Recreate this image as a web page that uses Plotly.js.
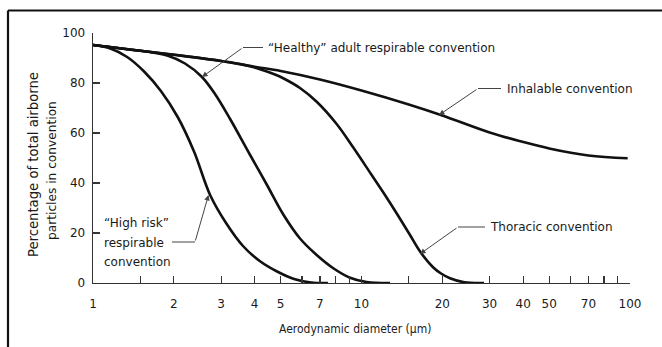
<!DOCTYPE html>
<html>
<head>
<meta charset="utf-8">
<script src="https://cdn.plot.ly/plotly-3.0.1.min.js"></script>
<style>
  html, body { margin: 0; padding: 0; background: #fff; }
  #chart { width: 662px; height: 347px; }
</style>
</head>
<body>
<div id="chart"></div>
<script>
// ---- Data ----
const inhalableD = [1, 1.5, 2, 3, 4, 5, 7, 10, 15, 20, 30, 40, 50, 70, 98];
const inhalableP = [95.2, 92.9, 91.3, 88.8, 86.5, 84.8, 81.4, 77.0, 71.4, 67.0, 60.2, 56.4, 53.8, 51.0, 49.9];

const thoracicD = [1, 1.5, 2, 3, 3.68, 4.19, 4.76, 5.11, 5.90, 6.81, 8.08, 9.32, 10.85, 12.06, 13.64, 15.16, 16.52, 18.51, 19.78, 21.36, 24.15, 28.6];
const thoracicP = [95.2, 92.9, 91.3, 88.8, 87.2, 85.5, 83.4, 81.9, 78.0, 72.5, 63.6, 54.2, 43.6, 36.2, 27.2, 19.2, 12.6, 6.2, 3.8, 1.9, 0.3, 0];

const healthyD = [1, 1.157, 1.339, 1.644, 1.902, 2.201, 2.541, 2.847, 3.237, 3.843, 4.436, 5.114, 5.902, 6.809, 7.852, 9.063, 10.45, 12.77];
const healthyP = [95.2, 94.4, 93.5, 92.3, 90.9, 87.8, 82.5, 75.6, 65.7, 51.3, 39.4, 27.4, 17.8, 11.2, 5.9, 2.1, 0.4, 0];

const highRiskD = [1, 1.16, 1.34, 1.55, 1.79, 2.07, 2.38, 2.73, 3.13, 3.62, 4.19, 4.85, 5.61, 6.49, 7.5];
const highRiskP = [95.2, 93.8, 90.4, 84.6, 76.8, 66.3, 52.5, 35.2, 24.0, 14.8, 8.7, 4.6, 1.6, 0.2, 0];

const xTickVals = [1, 1.5, 2, 3, 4, 5, 6, 7, 8, 9, 10, 15, 20, 30, 40, 50, 60, 70, 80, 90, 100];
const xTickText = ['1', '', '2', '3', '4', '5', '', '7', '', '', '10', '', '20', '30', '40', '50', '', '70', '', '', '100'];
const yTickVals = [0, 20, 40, 60, 80, 100];
const yTickText = ['0', '20', '40', '60', '80', '100'];

const xTitle = 'Aerodynamic diameter (µm)';
const yTitleLines = ['Percentage of total airborne', 'particles in convention'];
const labelHealthy = '“Healthy” adult respirable convention';
const labelInhalable = 'Inhalable convention';
const labelThoracic = 'Thoracic convention';
const labelHighRisk = ['“High risk”', 'respirable', 'convention'];

// ---- Layout geometry (pixels of the 662x347 page) ----
const W = 662, H = 347;
const M = { l: 93, r: 32, t: 33, b: 64 };
const PW = W - M.l - M.r, PH = H - M.t - M.b;
const px = x => (x - M.l) / PW;          // pixel x -> paper x
const py = y => (H - M.b - y) / PH;      // pixel y -> paper y

const FONT = '"DejaVu Sans", "Liberation Sans", sans-serif';
const FONT_C = '"DejaVu Sans Condensed", "DejaVu Sans", sans-serif';
const INK = '#1a1a1a';

function curve(xs, ys) {
  return {
    x: xs, y: ys, type: 'scatter', mode: 'lines',
    line: { color: '#111', width: 2.6, shape: 'spline', smoothing: 1 },
    hoverinfo: 'skip', showlegend: false
  };
}

const traces = [
  curve(inhalableD, inhalableP),
  curve(thoracicD, thoracicP),
  curve(healthyD, healthyP),
  curve(highRiskD, highRiskP)
];

function label(text, xPix, yPix, anchor) {
  return {
    xref: 'paper', yref: 'paper', x: px(xPix), y: py(yPix),
    xanchor: anchor || 'left', yanchor: 'middle',
    text: text, showarrow: false,
    font: { family: FONT, size: 12, color: INK }
  };
}
function arrow(tipX, tipY, elbowX, elbowY) {
  return {
    xref: 'paper', yref: 'paper', x: px(tipX), y: py(tipY),
    ax: elbowX - tipX, ay: elbowY - tipY,
    text: '', showarrow: true, arrowhead: 2, arrowsize: 1.1, arrowwidth: 1,
    arrowcolor: '#444', standoff: 0, startstandoff: 0
  };
}
function seg(x0, y0, x1, y1) {
  return {
    type: 'line', xref: 'paper', yref: 'paper',
    x0: px(x0), y0: py(y0), x1: px(x1), y1: py(y1),
    line: { color: '#444', width: 1 }
  };
}

const annotations = [
  label(labelHealthy, 266, 47.5),
  arrow(202, 77, 243, 47.5),
  label(labelInhalable, 505, 88.5),
  arrow(439, 115, 478, 88.5),
  label(labelThoracic, 488, 227),
  arrow(420, 254, 458, 227),
  label(labelHighRisk[0], 102, 223),
  label(labelHighRisk[1], 102, 242.5),
  label(labelHighRisk[2], 102, 262),
  arrow(208.5, 195, 195, 242),
  {
    xref: 'paper', yref: 'paper', x: px(355), y: py(329),
    xanchor: 'center', yanchor: 'middle', text: xTitle, showarrow: false,
    font: { family: FONT_C, size: 12, color: INK }
  },
  {
    xref: 'paper', yref: 'paper', x: px(33), y: py(165),
    xanchor: 'center', yanchor: 'middle', text: yTitleLines[0], showarrow: false,
    textangle: -90, font: { family: FONT, size: 13.2, color: INK }
  },
  {
    xref: 'paper', yref: 'paper', x: px(52), y: py(171),
    xanchor: 'center', yanchor: 'middle', text: yTitleLines[1], showarrow: false,
    textangle: -90, font: { family: FONT, size: 12.2, color: INK }
  }
];

const shapes = [
  seg(243, 47.5, 263, 47.5),
  seg(478, 88.5, 501, 88.5),
  seg(458, 227, 485, 227),
  seg(172, 242, 195, 242),
  // outer frame (top and left edges)
  { type: 'line', xref: 'paper', yref: 'paper', x0: px(8), y0: py(10.5), x1: px(W + 2), y1: py(10.5),
    line: { color: '#111', width: 2.2 } },
  { type: 'line', xref: 'paper', yref: 'paper', x0: px(8), y0: py(10.5), x1: px(8), y1: py(H + 2),
    line: { color: '#111', width: 2.2 } }
];

const layout = {
  width: W, height: H,
  margin: M,
  paper_bgcolor: '#fff', plot_bgcolor: '#fff',
  font: { family: FONT, size: 12, color: INK },
  showlegend: false,
  xaxis: {
    type: 'log', range: [0, 2], showgrid: false, zeroline: false,
    showline: true, linecolor: '#333', linewidth: 1.4,
    ticks: 'inside', ticklen: 7, tickwidth: 1.2, tickcolor: '#333',
    tickmode: 'array', tickvals: xTickVals, ticktext: xTickText,
    ticklabelstandoff: 9,
    tickfont: { family: FONT, size: 12, color: INK },
    fixedrange: true
  },
  yaxis: {
    range: [0, 100], showgrid: false, zeroline: false,
    showline: true, linecolor: '#333', linewidth: 1.4,
    ticks: 'inside', ticklen: 7, tickwidth: 1.2, tickcolor: '#333',
    tickmode: 'array', tickvals: yTickVals, ticktext: yTickText,
    ticklabelstandoff: 4,
    tickfont: { family: FONT, size: 12, color: INK },
    fixedrange: true
  },
  annotations: annotations,
  shapes: shapes
};

Plotly.newPlot('chart', traces, layout, { displayModeBar: false, staticPlot: true });
</script>
</body>
</html>
